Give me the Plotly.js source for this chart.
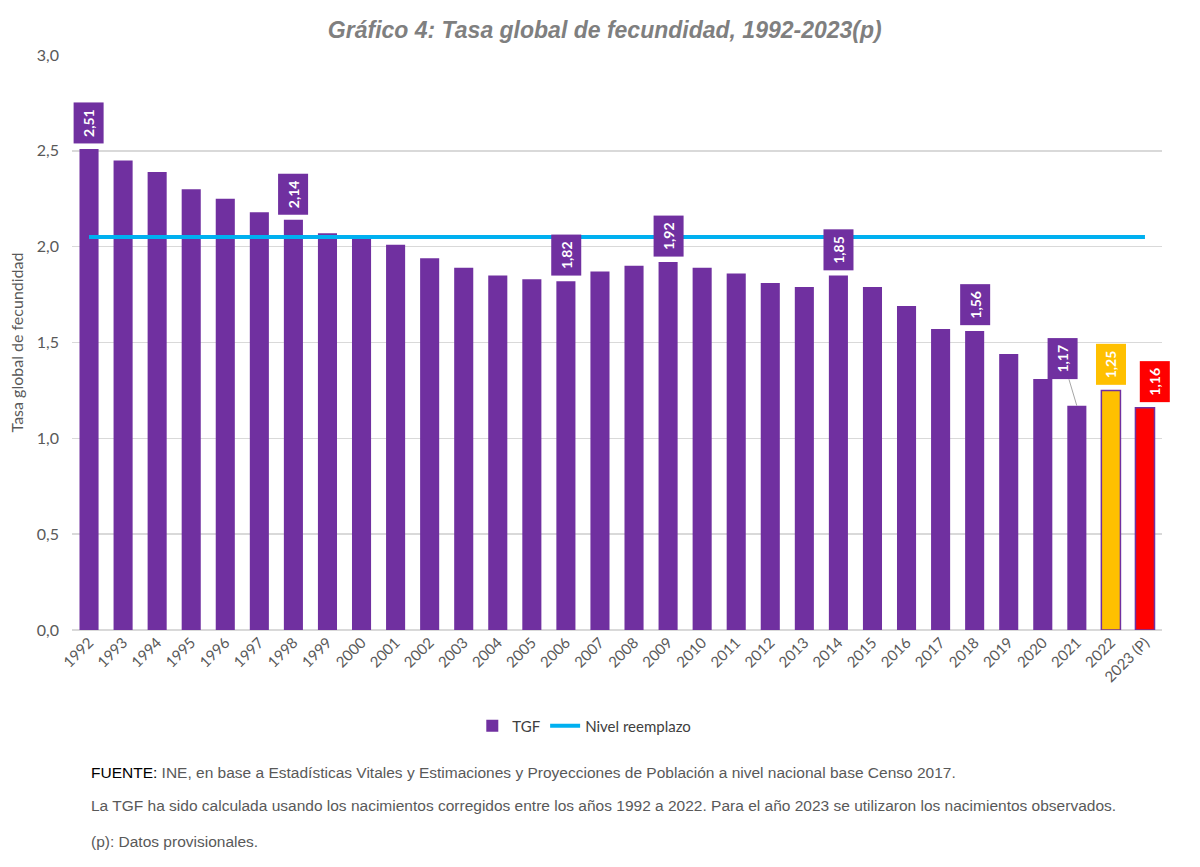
<!DOCTYPE html>
<html>
<head>
<meta charset="utf-8">
<script src="https://cdn.plot.ly/plotly-3.0.1.min.js"></script>
<style>
html,body{margin:0;padding:0;background:#fff;}
#chart{width:1200px;height:867px;}
</style>
</head>
<body>
<div id="chart"></div>
<script>
const years = ['1992','1993','1994','1995','1996','1997','1998','1999','2000','2001','2002','2003','2004','2005','2006','2007','2008','2009','2010','2011','2012','2013','2014','2015','2016','2017','2018','2019','2020','2021','2022','2023 (P)'];
const tgf = [2.51,2.45,2.39,2.30,2.25,2.18,2.14,2.07,2.04,2.01,1.94,1.89,1.85,1.83,1.82,1.87,1.90,1.92,1.89,1.86,1.81,1.79,1.85,1.79,1.69,1.57,1.56,1.44,1.31,1.17,1.25,1.16];
const reemplazo = years.map(() => 2.05);
const labeledYears = ['1992','1998','2006','2009','2014','2018','2021','2022','2023 (P)'];
const yTicks = [0,0.5,1.0,1.5,2.0,2.5,3.0];

const PURPLE = '#7030A0', GOLD = '#FFC000', RED = '#FF0000', BLUE = '#00B0F0';
const barColors = years.map(y => y === '2022' ? GOLD : (y === '2023 (P)' ? RED : PURPLE));
const fmt = v => v.toFixed(2).replace('.', ',');

const traces = [
  {type:'bar', name:'TGF', x: years, y: tgf,
   marker:{color: barColors, line:{color: PURPLE, width: years.map(y => (y==='2022'||y==='2023 (P)') ? 1.5 : 0)}},
   hoverinfo:'skip'},
  {type:'scatter', mode:'lines', name:'Nivel reemplazo', x: years, y: reemplazo,
   line:{color: BLUE, width: 4}, hoverinfo:'skip'}
];

const annotations = labeledYears.map(yr => {
  const i = years.indexOf(yr);
  const bg = yr === '2022' ? GOLD : (yr === '2023 (P)' ? RED : PURPLE);
  const a = {x: i, y: tgf[i], xref:'x', yref:'y', text: fmt(tgf[i]), textangle: -90,
    font:{family:'Lato, "Open Sans", sans-serif', size:14, color:'#ffffff', weight:'bold'},
    bgcolor: bg, borderpad: 6, showarrow:false, yanchor:'bottom', yshift: 5};
  if (yr === '2021') {
    Object.assign(a, {showarrow:true, arrowhead:0, arrowwidth:1, arrowcolor:'#A6A6A6', ax:-14, ay:-47, yshift:0});
    delete a.yanchor;
  }
  if (yr === '2023 (P)') a.xshift = 10;
  return a;
});

const notes = [
  {t:'<span style="color:#000000">FUENTE:</span> INE, en base a Estadísticas Vitales y Estimaciones y Proyecciones de Población a nivel nacional base Censo 2017.', y:772},
  {t:'La TGF ha sido calculada usando los nacimientos corregidos entre los años 1992 a 2022. Para el año 2023 se utilizaron los nacimientos observados.', y:805},
  {t:'(p): Datos provisionales.', y:841}
];
notes.forEach(n => annotations.push({xref:'paper', yref:'paper', x:(89-72)/1090, y:(630-n.y)/575,
  xanchor:'left', yanchor:'middle', showarrow:false, text:n.t, align:'left',
  font:{family:'"Liberation Sans", Arial, sans-serif', size:15.5, color:'#595959'}}));

const layout = {
  width:1200, height:867,
  margin:{l:72, r:38, t:55, b:237},
  paper_bgcolor:'#ffffff', plot_bgcolor:'#ffffff',
  title:{text:'<b><i>Gráfico 4: Tasa global de fecundidad, 1992-2023(p)</i></b>',
    font:{family:'"Liberation Sans", Arial, sans-serif', size:23, color:'#7F7F7F'},
    x:0.504, xanchor:'center', y:0.966, yanchor:'middle'},
  separators:',.',
  bargap:0.44,
  showlegend:true,
  legend:{orientation:'h', x:0.47, xanchor:'center', y:-0.167, yanchor:'middle',
    font:{family:'Lato, "Open Sans", sans-serif', size:15, color:'#404040'}, traceorder:'normal'},
  xaxis:{type:'category', range:[-0.5, years.length - 0.5], autorange:false, tickangle:-45, showgrid:false, showline:false, ticks:'',
    tickfont:{family:'Lato, "Open Sans", sans-serif', size:15, color:'#595959'}, fixedrange:true},
  yaxis:{range:[0,3.0], autorange:false, tickvals:yTicks, tickformat:'.1f', showgrid:true, gridcolor:'#D9D9D9', gridwidth:1.5,
    zeroline:true, zerolinecolor:'#D9D9D9', zerolinewidth:1.5, showline:false, ticks:'', ticklabelstandoff:12,
    tickfont:{family:'Lato, "Open Sans", sans-serif', size:16, color:'#595959'},
    title:{text:'Tasa global de fecundidad', font:{family:'Lato, "Open Sans", sans-serif', size:16, color:'#595959'}, standoff:9}},
  annotations: annotations
};

Plotly.newPlot('chart', traces, layout, {displayModeBar:false, staticPlot:true});
</script>
</body>
</html>
